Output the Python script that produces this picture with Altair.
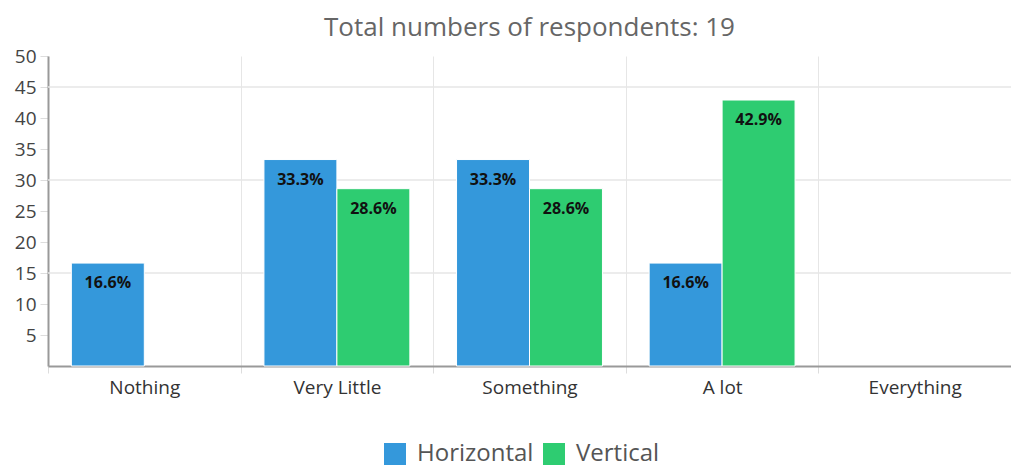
import altair as alt
import pandas as pd

categories = ["Nothing", "Very Little", "Something", "A lot", "Everything"]
horizontal = [16.6, 33.3, 33.3, 16.6, 0]
vertical = [0, 28.6, 28.6, 42.9, 0]
series_names = ["Horizontal", "Vertical"]
series_colors = ["#3498db", "#2ecc71"]
y_ticks = [5, 10, 15, 20, 25, 30, 35, 40, 45, 50]
y_grid = [15, 30, 45]

rows = []
for c, h, v in zip(categories, horizontal, vertical):
    rows.append({"category": c, "series": "Horizontal", "value": h})
    rows.append({"category": c, "series": "Vertical", "value": v})
df = pd.DataFrame(rows)
df["label"] = df["value"].map(lambda v: f"{v:.1f}%")

FONT = "Open Sans"

x_axis = alt.Axis(labelAngle=0, labelFontSize=19, labelColor="#333333",
                  labelFont=FONT, labelPadding=5,
                  tickBand="extent", ticks=True, tickSize=7,
                  tickColor="#dddddd", grid=True, gridColor="#e6e6e6",
                  domainColor="#999999", domainWidth=2)
x_scale = alt.Scale(domain=categories, paddingInner=0, paddingOuter=0)
xo_scale = alt.Scale(domain=series_names, paddingOuter=0.32, paddingInner=0)
y_scale = alt.Scale(domain=[0, 50], nice=False)
y_axis = alt.Axis(values=y_ticks, grid=False, labelFontSize=19,
                  labelColor="#444444", labelFont=FONT, labelPadding=4,
                  labelOverlap=False, labelFlush=False,
                  tickSize=8, tickColor="#dddddd",
                  domainColor="#999999", domainWidth=2)

bars = alt.Chart(df).transform_filter("datum.value > 0").mark_bar(
    stroke="white", strokeWidth=1
).encode(
    x=alt.X("category:N", sort=categories, title=None, scale=x_scale, axis=x_axis),
    xOffset=alt.XOffset("series:N", sort=series_names, scale=xo_scale),
    y=alt.Y("value:Q", scale=y_scale, title=None, axis=y_axis),
    color=alt.Color("series:N", sort=series_names,
                    scale=alt.Scale(domain=series_names, range=series_colors),
                    legend=alt.Legend(title=None, orient="none", direction="horizontal",
                                      legendX=335, legendY=386,
                                      symbolType="square", symbolSize=484,
                                      symbolStrokeWidth=0, symbolOpacity=1,
                                      labelFontSize=24, labelColor="#555555",
                                      labelFont=FONT, labelOffset=10,
                                      columnPadding=8)),
)

labels = alt.Chart(df).transform_filter("datum.value > 0").mark_text(
    baseline="top", dy=12, fontWeight="bold", fontSize=16,
    font=FONT, color="#111111"
).encode(
    x=alt.X("category:N", sort=categories, title=None, scale=x_scale, axis=x_axis),
    xOffset=alt.XOffset("series:N", sort=series_names, scale=xo_scale),
    y=alt.Y("value:Q", scale=y_scale, title=None, axis=y_axis),
    text="label:N",
)

grid = alt.Chart(pd.DataFrame({"g": y_grid})).mark_rule(
    color="#e6e6e6", strokeWidth=1.5
).encode(y=alt.Y("g:Q", scale=y_scale, title=None, axis=y_axis))

chart = alt.layer(grid, bars, labels).properties(
    width=963, height=310,
    padding={"left": 40, "top": 48, "right": 0, "bottom": 101},
    autosize=alt.AutoSizeParams(type="none"),
    title=alt.Title("Total numbers of respondents: 19", fontSize=26,
                    font=FONT, fontWeight="normal", color="#666666",
                    anchor="middle", offset=6),
).configure_view(stroke=None)

chart.save("out.html", embed_options={"renderer": "svg", "actions": False})
